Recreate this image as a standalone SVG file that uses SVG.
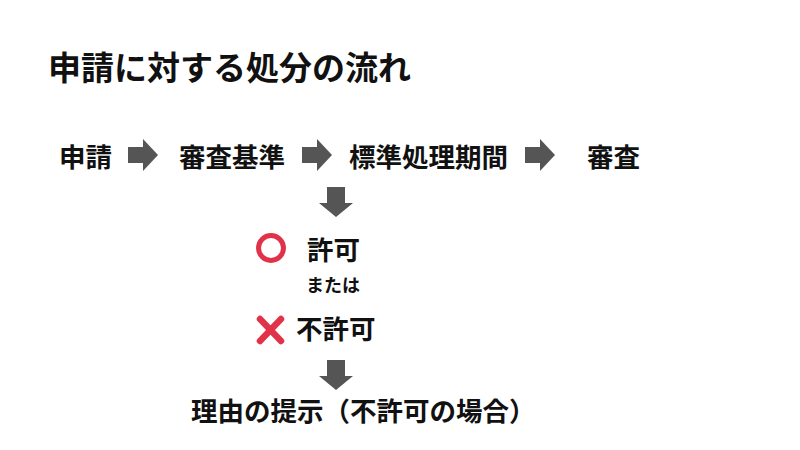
<svg xmlns="http://www.w3.org/2000/svg" width="800" height="450" viewBox="0 0 800 450">
<style>
text{font-family:"Noto Sans CJK JP","Noto Sans",sans-serif;font-weight:bold;fill:#111}
.t{font-size:33px}
.n{font-size:26.5px}
.s{font-size:18px}
.arr{fill:#555}
</style>
<defs>
<polygon id="ra" points="0,-8 15,-8 15,-16 30,0 15,16 15,8 0,8"/>
<polygon id="da" points="-9,0 9,0 9,16 17,16 0,30 -17,16 -9,16"/>
</defs>
<rect width="800" height="450" fill="#fff"/>
<g id="title"><text class="t" x="48" y="80">申請に対する処分の流れ</text></g>
<g id="n1"><text class="n" x="59" y="167">申請</text></g>
<g id="n2"><text class="n" x="179" y="167">審査基準</text></g>
<g id="n3"><text class="n" x="349" y="167">標準処理期間</text></g>
<g id="n4"><text class="n" x="587" y="167">審査</text></g>
<g id="ok">
<circle cx="271" cy="248" r="12.5" fill="none" stroke="#e0334a" stroke-width="5"/>
<text class="n" x="307" y="260">許可</text>
</g>
<g id="or"><text class="s" x="306" y="292">または</text></g>
<g id="ng">
<path d="M260,319 L281,341 M281,319 L260,341" stroke="#e0334a" stroke-width="6.5" stroke-linecap="round"/>
<text class="n" x="296" y="339">不許可</text>
</g>
<g id="reason"><text class="n" x="191" y="421">理由の提示（不許可の場合）</text></g>
<g id="connectors" class="arr">
<use href="#ra" x="128" y="155"/>
<use href="#ra" x="302" y="155"/>
<use href="#ra" x="525" y="155"/>
<use href="#da" x="336" y="187"/>
<use href="#da" x="336" y="360"/>
</g>
</svg>
